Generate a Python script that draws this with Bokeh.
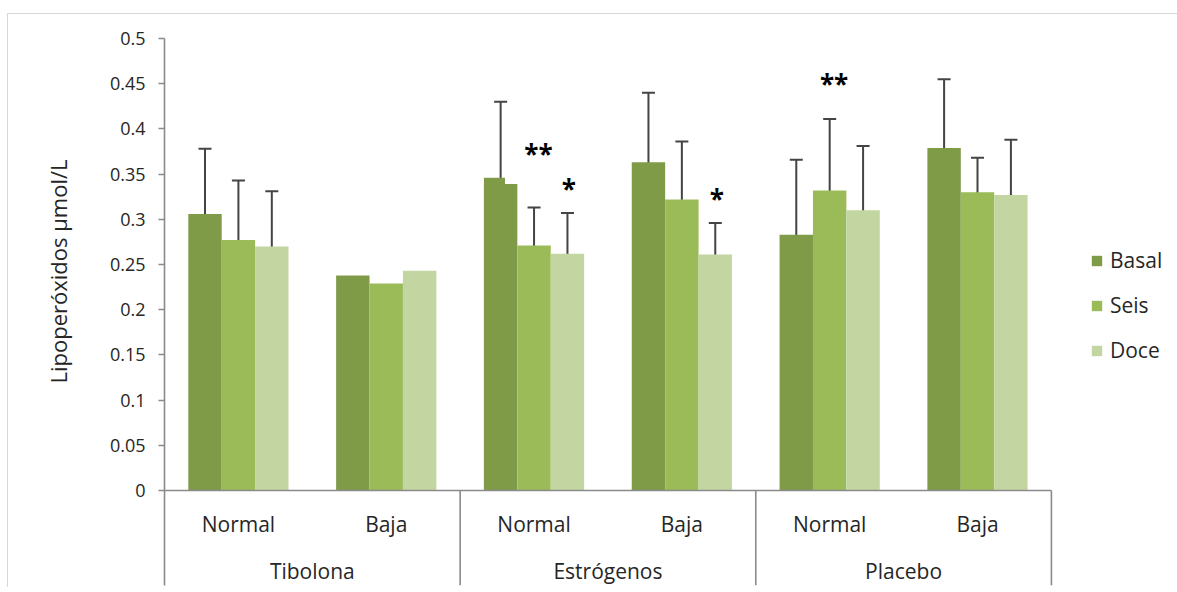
from bokeh.plotting import figure
from bokeh.models import (ColumnDataSource, FixedTicker, Legend, LegendItem,
                          Whisker, TeeHead, Title, Range1d)
from bokeh.core.properties import value
from bokeh.embed import file_html
from bokeh.resources import INLINE

# ---------------- data ----------------
groups = ["Tibolona", "Estrógenos", "Placebo"]
levels = ["Normal", "Baja"]
series = ["Basal", "Seis", "Doce"]

basal = [0.306, 0.238, 0.339, 0.363, 0.283, 0.379]
seis = [0.277, 0.229, 0.271, 0.322, 0.332, 0.330]
doce = [0.270, 0.243, 0.262, 0.261, 0.310, 0.327]
# earlier (overlapping) Basal bar visible in Estrógenos / Normal
basal_previo = [None, None, 0.346, None, None, None]

basal_hi = [0.378, None, 0.430, 0.440, 0.366, 0.455]
basal_lo = [0.237, None, 0.263, 0.287, 0.201, 0.303]
seis_hi = [0.343, None, 0.313, 0.386, 0.411, 0.368]
seis_lo = [0.211, None, 0.230, 0.259, 0.254, 0.294]
doce_hi = [0.331, None, 0.307, 0.296, 0.381, 0.388]
doce_lo = [0.211, None, 0.210, 0.224, 0.240, 0.267]

star_text = ["**", "*", "*", "**"]
star_group = ["Estrógenos", "Estrógenos", "Estrógenos", "Placebo"]
star_level = ["Normal", "Normal", "Baja", "Normal"]
star_series = ["Seis", "Doce", "Doce", "Seis"]
star_y = [0.372, 0.334, 0.323, 0.450]

y_ticks = [0, 0.05, 0.1, 0.15, 0.2, 0.25, 0.3, 0.35, 0.4, 0.45, 0.5]
y_tick_labels = ["0", "0.05", "0.1", "0.15", "0.2", "0.25", "0.3", "0.35",
                 "0.4", "0.45", "0.5"]
y_label = "Lipoperóxidos µmol/L"

colors = {"Basal": "#7f9b48", "Seis": "#9bbb59", "Doce": "#c3d6a2"}
values = {"Basal": basal, "Seis": seis, "Doce": doce}
his = {"Basal": basal_hi, "Seis": seis_hi, "Doce": doce_hi}
los = {"Basal": basal_lo, "Seis": seis_lo, "Doce": doce_lo}

# ---------------- layout ----------------
FONT = "Open Sans"
TXT = "#262626"
AX = "#8a8a8a"
n_cat = len(groups) * len(levels)
bw = 0.226
offsets = {"Basal": -bw, "Seis": 0.0, "Doce": bw}
centers = [i + 0.5 for i in range(n_cat)]
cat_index = {(g, l): gi * len(levels) + li
             for gi, g in enumerate(groups) for li, l in enumerate(levels)}
Y0 = -0.105

p = figure(width=1177, height=587, output_backend="svg", toolbar_location=None,
           x_range=Range1d(0, 6.853), y_range=Range1d(Y0, 0.5),
           x_axis_location=None, min_border_left=164, min_border_top=38,
           min_border_right=0, min_border_bottom=2)
p.outline_line_color = None
p.grid.visible = False
p.background_fill_color = "white"
p.border_fill_color = "white"
p.border_fill_alpha = 0
p.styles = {
    "background": ("linear-gradient(#d6d6d6,#d6d6d6) 7px 13px / 1170px 1px no-repeat, "
                   "linear-gradient(#d6d6d6,#d6d6d6) 7px 13px / 1px 580px no-repeat, "
                   "white"),
}

yax = p.yaxis[0]
yax.ticker = FixedTicker(ticks=y_ticks)
yax.major_label_overrides = {t: s for t, s in zip(y_ticks, y_tick_labels)}
yax.axis_line_color = AX
yax.axis_line_width = 1.6
yax.major_tick_line_color = AX
yax.major_tick_line_width = 1.6
yax.major_tick_out = 6
yax.major_tick_in = 0
yax.minor_tick_out = 0
yax.minor_tick_in = 0
yax.major_label_text_font = FONT
yax.major_label_text_font_size = "18px"
yax.major_label_text_color = TXT
yax.major_label_standoff = 13

# y axis title (vertical), centred on the 0 - 0.5 span
ttl = Title(text=y_label, align="left", offset=202, standoff=68,
            text_font=FONT, text_font_size="22px", text_color=TXT,
            text_font_style="normal")
p.add_layout(ttl, "left")

# bars
legend_items = []
for s in series:
    xs = [c + offsets[s] for c in centers]
    src = ColumnDataSource(dict(x=xs, top=values[s]))
    r = p.vbar(x="x", top="top", width=bw, bottom=0, source=src,
               fill_color=colors[s], line_color=None)
    legend_items.append(LegendItem(label=s, renderers=[r]))

# overlapping earlier basal bar
frac = 0.63
px_, pt_ = [], []
for i, v in enumerate(basal_previo):
    if v is not None:
        left = centers[i] + offsets["Basal"] - bw / 2
        px_.append(left + bw * frac / 2)
        pt_.append(v)
p.vbar(x=px_, top=pt_, width=bw * frac, bottom=0,
       fill_color=colors["Basal"], line_color=None)

# error bars
for s in series:
    xs, up, lo = [], [], []
    for i in range(n_cat):
        if his[s][i] is not None:
            xs.append(centers[i] + offsets[s])
            up.append(his[s][i])
            lo.append(los[s][i])
    esrc = ColumnDataSource(dict(x=xs, upper=up, lower=lo))
    w = Whisker(source=esrc, base="x", upper="upper", lower="lower",
                dimension="height", line_color="#444444", line_width=2,
                upper_head=TeeHead(size=13, line_color="#444444", line_width=2),
                lower_head=TeeHead(size=13, line_color="#444444", line_width=2))
    p.add_layout(w)

# stars
sx = [centers[cat_index[(g, l)]] + offsets[s] + (0.03 if t == "**" else 0.01)
      for g, l, s, t in zip(star_group, star_level, star_series, star_text)]
p.text(x=sx, y=star_y, text=star_text, text_font=value(FONT),
       text_font_size="26px", text_font_style="bold", text_color="black",
       text_align="center", text_baseline="middle")

# category axis (multi-level)
p.segment(x0=[0], y0=[0], x1=[n_cat], y1=[0], line_color=AX, line_width=1.6)
seps = [(gi + 1) * len(levels) for gi in range(len(groups))]
p.segment(x0=seps, y0=[0] * len(seps), x1=seps, y1=[Y0] * len(seps),
          line_color=AX, line_width=1.6)
sub_labels = [l for g in groups for l in levels]
p.text(x=centers, y=[-0.0365] * n_cat, text=sub_labels, text_font=value(FONT),
       text_font_size="21px", text_color=TXT, text_align="center",
       text_baseline="middle")
gx = [gi * len(levels) + len(levels) / 2 for gi in range(len(groups))]
p.text(x=gx, y=[-0.0885] * len(groups), text=groups, text_font=value(FONT),
       text_font_size="21px", text_color=TXT, text_align="center",
       text_baseline="middle")

legend = Legend(items=legend_items, location=(926, 221), orientation="vertical",
                border_line_color=None, background_fill_alpha=0,
                label_text_font=FONT, label_text_font_size="21px",
                label_text_color=TXT, glyph_width=13, glyph_height=13,
                label_height=28, spacing=17, padding=0, margin=0,
                label_standoff=7)
p.add_layout(legend)

open("out.html", "w").write(file_html(p, INLINE))
